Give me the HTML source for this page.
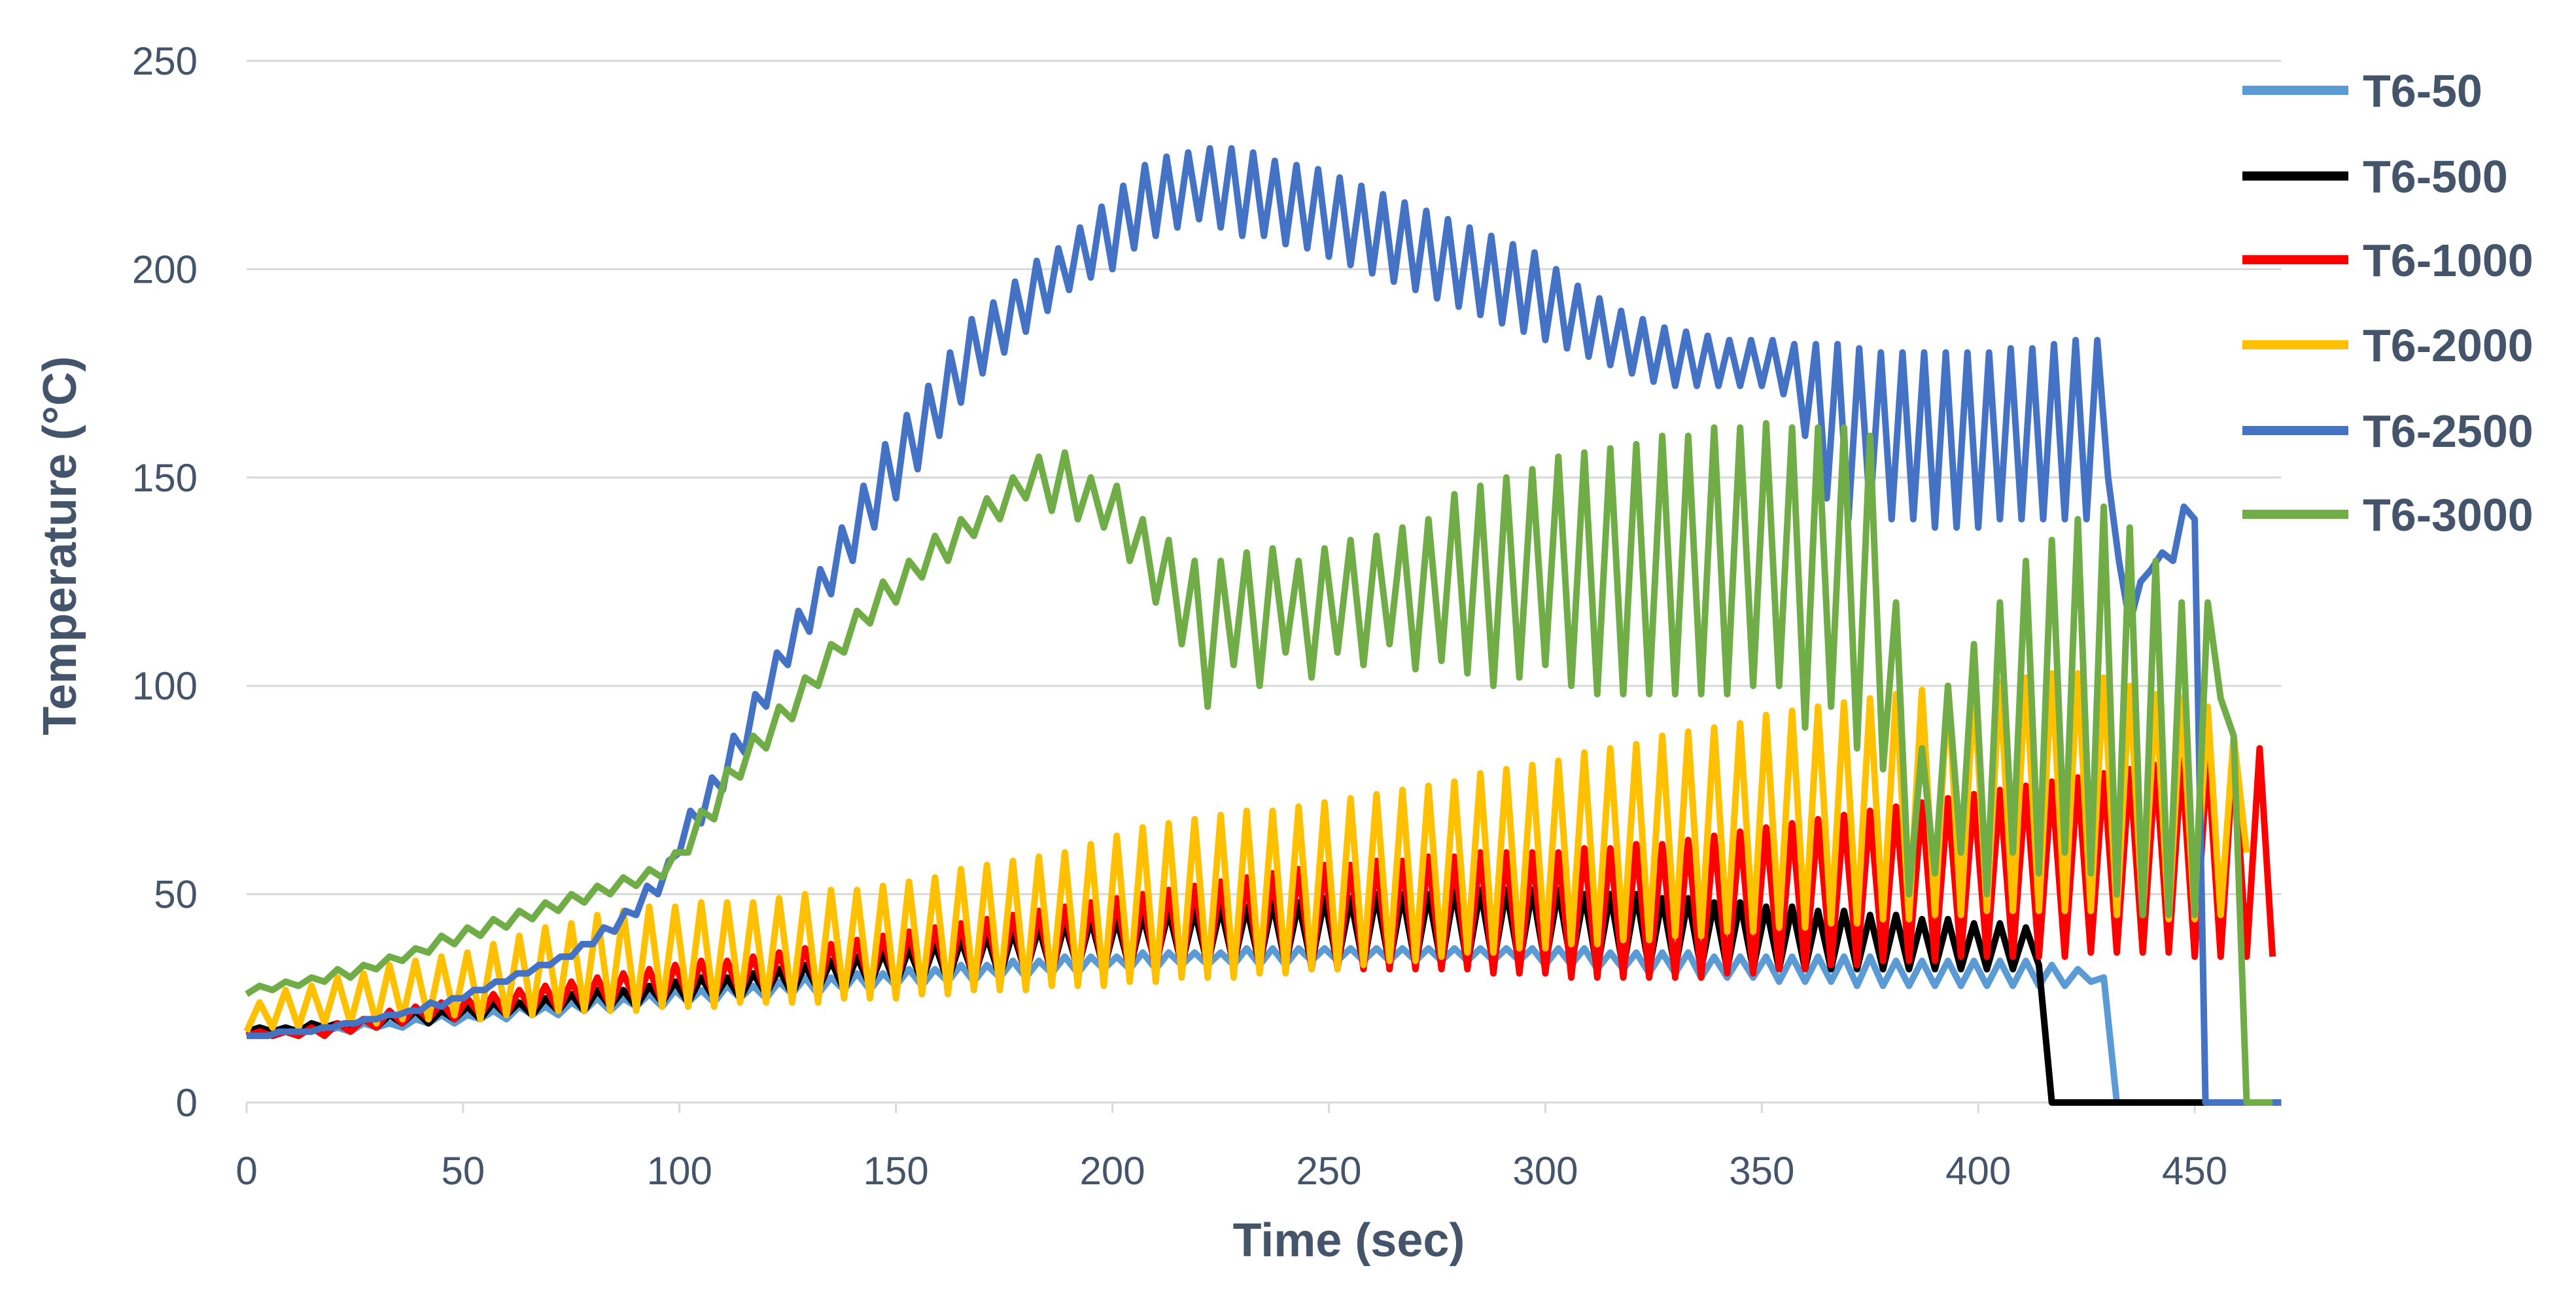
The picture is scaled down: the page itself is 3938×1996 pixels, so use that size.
<!DOCTYPE html>
<html><head><meta charset="utf-8"><style>
html,body{margin:0;padding:0;background:#fff;}
svg{display:block;font-family:"Liberation Sans",sans-serif;}
</style></head><body>
<svg id="chart" width="3938" height="1996" viewBox="0 0 3938 1996" xmlns="http://www.w3.org/2000/svg">
<rect width="3938" height="1996" fill="#fff"/>
<g id="grid"></g>
<g id="ticks"></g>
<g id="series"></g>
<text x="2062" y="1920" font-size="72" font-weight="bold" fill="#44546a" text-anchor="middle">Time (sec)</text>
<text transform="translate(116,834) rotate(-90)" font-size="72" font-weight="bold" fill="#44546a" text-anchor="middle">Temperature (°C)</text>
<g id="legend"></g>
</svg>
<script>
const xTicks = [0,50,100,150,200,250,300,350,400,450];
const yTicks = [0,50,100,150,200,250];
const seriesNames = ["T6-50","T6-500","T6-1000","T6-2000","T6-2500","T6-3000"];
const seriesColors = ["#5b9bd5","#000000","#ff0000","#ffc000","#4472c4","#70ad47"];
const seriesStep = [3,3,3,3,2.5,3];
const v50 = [16,17,16,17,17,18,17,18,17,19, 18,19,18,20,19,21,19,21,20,22, 20,23,21,23,21,24,22,25,22,25, 23,26,23,27,24,27,24,28,25,28, 25,29,26,30,26,30,27,31,27,31, 28,32,28,32,29,33,29,33,30,34, 30,34,31,35,31,35,32,35,32,36, 32,36,33,36,33,36,33,37,33,37, 33,37,34,37,34,37,34,37,34,37, 34,37,34,37,34,37,34,37,34,37, 33,37,33,37,32,36,32,36,31,36, 31,36,30,35,30,35,30,35,29,35, 29,35,29,35,28,35,28,34,28,34, 28,34,28,34,28,34,28,34,28,33, 28,32,29,30,0,0,0,0,0,0, 0,0,0,0,0,0,0,0,0,0,0,0,0,0];
const v500 = [17,18,17,18,17,19,18,19,18,20, 18,21,19,22,19,22,20,23,20,24, 21,24,21,25,22,26,22,27,23,27, 23,28,24,29,24,30,25,30,25,31, 26,32,26,33,27,34,27,35,28,36, 28,37,29,38,29,39,30,40,30,41, 31,42,31,43,32,44,32,44,32,45, 33,46,33,46,33,47,33,47,33,48, 33,48,33,49,33,49,33,50,33,50, 33,50,33,51,33,51,33,51,33,51, 33,51,33,50,32,50,32,50,32,49, 32,49,32,48,32,48,32,47,32,47, 32,46,32,46,32,45,32,45,32,44, 32,44,32,43,32,43,32,42,33,0, 0,0,0,0,0,0,0,0,0,0, 0,0,0,0,0,0,0,0,0];
const v1000 = [16,17,16,17,16,18,16,19,17,20, 18,22,19,23,20,24,20,25,21,26, 21,27,22,28,22,29,23,30,23,31, 24,32,24,33,25,34,25,34,26,35, 26,36,27,37,27,38,28,39,28,40, 28,41,29,42,29,43,29,44,30,45, 30,46,30,47,31,48,31,49,31,50, 31,51,32,52,32,53,32,54,32,55, 32,56,32,57,32,57,32,58,32,58, 32,59,32,59,32,60,31,60,31,60, 31,60,30,61,30,61,30,62,30,62, 30,63,30,64,31,65,31,66,32,67, 32,68,33,69,33,70,34,71,34,72, 34,73,35,74,35,75,35,76,35,77, 35,78,36,79,36,80,36,81,36,82, 35,83,35,84,35,85,35,85];
const v2000 = [17,24,18,27,18,28,19,30,19,31, 19,33,20,34,20,35,21,36,20,38, 21,40,21,42,22,43,22,45,22,46, 22,47,23,47,23,48,23,48,24,48, 24,49,24,50,24,51,25,51,25,52, 25,53,26,54,26,56,27,57,27,58, 27,59,28,60,28,62,28,64,29,66, 29,67,30,68,30,69,30,70,31,70, 31,71,32,72,32,73,33,74,34,75, 34,76,35,77,36,79,36,80,37,81, 37,82,38,84,38,85,39,86,39,88, 40,89,40,90,41,91,41,93,42,94, 42,95,43,96,43,97,44,98,44,99, 45,100,45,100,46,101,46,102,46,103, 46,103,46,102,45,100,45,98,44,97, 44,95,45,88,60];
const v2500 = [16,16,16,17,17,17,17,18,18,19, 19,20,20,21,21,22,22,24,23,25, 25,27,27,29,29,31,31,33,33,35, 35,38,38,42,41,46,45,52,50,58, 60,70,67,78,75,88,84,98,95,108, 105,118,113,128,122,138,130,148,138,158, 145,165,152,172,160,180,168,188,175,192, 180,197,185,202,190,205,195,210,198,215, 200,220,205,225,208,227,210,228,212,229, 210,229,208,228,208,226,206,225,205,224, 203,222,201,220,199,218,197,216,195,214, 193,212,191,210,189,208,187,206,185,204, 183,200,181,196,179,193,177,190,175,188, 173,186,172,185,172,184,172,183,172,183, 172,183,170,182,160,182,145,182,140,181, 142,180,140,180,140,180,138,180,138,180, 138,180,140,181,140,181,140,182,140,183, 140,183,150,130,115,125,128,132,130,143, 140,0,0,0,0,0,0,0,0];
const v3000 = [26,28,27,29,28,30,29,32,30,33, 32,35,34,37,36,40,38,42,40,44, 42,46,44,48,46,50,48,52,50,54, 52,56,54,60,60,70,68,80,78,88, 85,95,92,102,100,110,108,118,115,125, 120,130,126,136,130,140,136,145,140,150, 145,155,142,156,140,150,138,148,130,140, 120,135,110,130,95,130,105,132,100,133, 108,130,102,133,108,135,105,136,110,138, 104,140,106,146,103,148,100,150,102,152, 105,155,100,156,98,157,98,158,98,160, 98,160,98,162,98,162,100,163,100,162, 90,162,95,162,85,160,80,120,50,85, 55,100,60,110,50,120,60,130,55,135, 60,140,55,143,50,138,45,130,45,120, 45,120,97,88,0,0,0,0];
const seriesValues = [v50,v500,v1000,v2000,v2500,v3000];

const NS = "http://www.w3.org/2000/svg";
const X0 = 377, XPX = 6.618, XMAX = 470;
const Y0 = 1685, YPX = 6.368;
function xs(t){ return X0 + t*XPX; }
function ys(v){ return Y0 - v*YPX; }
function mk(tag, attrs, parent){ const e=document.createElementNS(NS,tag); for(const k in attrs) e.setAttribute(k,attrs[k]); parent.appendChild(e); return e; }

const grid=document.getElementById('grid'), ticks=document.getElementById('ticks');
yTicks.forEach(v=>{
  const l=mk('line',{x1:xs(0),x2:xs(XMAX),y1:ys(v),y2:ys(v),stroke:'#d9d9d9','stroke-width':3},grid);
  
  
  const t=mk('text',{x:302,y:ys(v)+21,'font-size':60,fill:'#44546a','text-anchor':'end'},ticks);
  t.textContent=v;
  
  
});
xTicks.forEach(v=>{
  const tk=mk('line',{x1:xs(v),x2:xs(v),y1:Y0,y2:Y0+16,stroke:'#d9d9d9','stroke-width':3},grid);
  
  
  const t=mk('text',{x:xs(v),y:1810,'font-size':60,fill:'#44546a','text-anchor':'middle'},ticks);
  t.textContent=v;
  
  
});

const sg=document.getElementById('series');
seriesValues.forEach((vals,i)=>{
  const pts=[];
  vals.forEach((v,k)=>{ const t=k*seriesStep[i]; if(t<=XMAX) pts.push(xs(t).toFixed(1)+','+ys(v).toFixed(1)); });
  const p=mk('polyline',{points:pts.join(' '),fill:'none',stroke:seriesColors[i],'stroke-width':10,'stroke-linejoin':'round'},sg);
  
  
});

const lg=document.getElementById('legend');
const legY=[138,269,397,527,658,786];
seriesNames.forEach((n,i)=>{
  const l=mk('line',{x1:3428,x2:3590,y1:legY[i],y2:legY[i],stroke:seriesColors[i],'stroke-width':14},lg);
  
  
  const t=mk('text',{x:3612,y:legY[i]+25,'font-size':70,'font-weight':'bold',fill:'#44546a'},lg);
  t.textContent=n;
  
  
});
</script>
</body></html>
